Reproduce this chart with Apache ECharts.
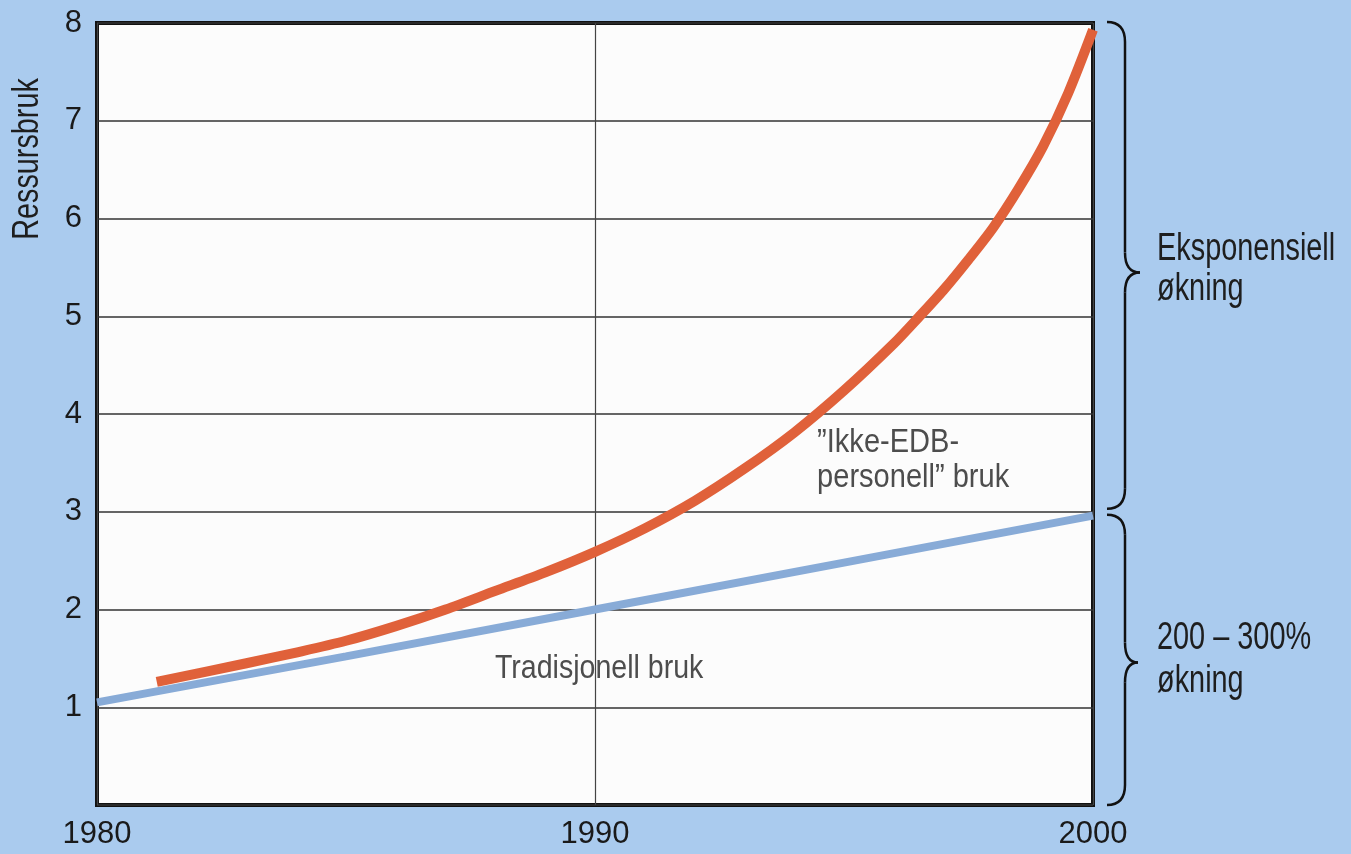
<!DOCTYPE html>
<html><head><meta charset="utf-8">
<script src="https://cdn.jsdelivr.net/npm/echarts@6/dist/echarts.min.js"></script>
<style>html,body{margin:0;padding:0;background:#aacbee;}#c{width:1351px;height:854px;}</style>
</head><body><div id="c"></div>
<script>
// Data
const tradYears  = [1980, 1985, 1990, 1995, 2000];
const tradValues = [1.05, 1.52, 2.0, 2.48, 2.96];
const ikkeYears  = [1981.2, 1983, 1984, 1985, 1986, 1987, 1988, 1989, 1990, 1991, 1992, 1993, 1994, 1995, 1996, 1996.5, 1997, 1997.5, 1998, 1998.5, 1999, 1999.5, 2000];
const ikkeValues = [1.26, 1.45, 1.56, 1.68, 1.83, 2.0, 2.19, 2.38, 2.59, 2.83, 3.11, 3.44, 3.81, 4.24, 4.72, 4.99, 5.27, 5.58, 5.91, 6.3, 6.74, 7.28, 7.93];
const xTicks = [1980, 1990, 2000];
const yTicks = [1, 2, 3, 4, 5, 6, 7, 8];
const yAxisTitle = 'Ressursbruk';
const tradLabel = 'Tradisjonell bruk';
const ikkeLabel = ['”Ikke-EDB-', 'personell” bruk'];
const braceUpperText = ['Eksponensiell', 'økning'];
const braceLowerText = ['200 – 300%', 'økning'];

const FONT = "'Liberation Sans', Arial, sans-serif";
const chart = echarts.init(document.getElementById('c'));

function pairs(xs, ys){ return xs.map((x,i)=>[x, ys[i]]); }

chart.setOption({
  backgroundColor: '#aacbee',
  animation: false,
  grid: { left: 97, right: 258, top: 23, bottom: 49, show: true,
          backgroundColor: '#fcfcfc', borderColor: '#111', borderWidth: 4 },
  xAxis: {
    type: 'value', min: xTicks[0], max: xTicks[xTicks.length-1], interval: 10,
    axisLine: { show: false }, axisTick: { show: false },
    axisLabel: { color: '#1a1a1a', fontSize: 31, fontFamily: FONT, margin: 14,
                 formatter: v => xTicks.includes(v) ? String(v) : '' },
    splitLine: { show: true, lineStyle: { color: '#444', width: 1.2 } }
  },
  yAxis: {
    type: 'value', min: 0, max: yTicks[yTicks.length-1], interval: 1,
    axisLine: { show: false }, axisTick: { show: false },
    axisLabel: { color: '#1a1a1a', fontSize: 31, fontFamily: FONT, margin: 15,
                 formatter: v => yTicks.includes(v) ? String(v) : '' },
    splitLine: { show: true, lineStyle: { color: '#333', width: 1.5 } }
  },
  series: [
    { type: 'line', data: pairs(tradYears, tradValues), showSymbol: false, smooth: false,
      lineStyle: { color: '#88abd7', width: 8, cap: 'butt' }, z: 3 },
    { type: 'line', data: pairs(ikkeYears, ikkeValues), showSymbol: false, smooth: 0.3,
      lineStyle: { color: '#e0613a', width: 10, cap: 'butt', join: 'round' }, z: 4 }
  ]
});

function px(x, y){ return chart.convertToPixel({gridIndex: 0}, [x, y]); }

function brace(xTip, xLine, xPoint, yTop, yMid, yBot){
  const r = 20;
  const st = { stroke: '#111', lineWidth: 2.5, fill: null };
  const bz = (x1,y1,cx,cy,x2,y2) => ({ type: 'bezierCurve', z: 10, silent: true,
     shape: { x1: x1, y1: y1, cpx1: cx, cpy1: cy, x2: x2, y2: y2 }, style: st });
  const ln = (x1,y1,x2,y2) => ({ type: 'line', z: 10, silent: true,
     shape: { x1: x1, y1: y1, x2: x2, y2: y2 }, style: st });
  return [
    bz(xTip, yTop, xLine, yTop, xLine, yTop + r),
    ln(xLine, yTop + r, xLine, yMid - r),
    bz(xLine, yMid - r, xLine, yMid, xPoint, yMid),
    bz(xPoint, yMid, xLine, yMid, xLine, yMid + r),
    ln(xLine, yMid + r, xLine, yBot - r),
    bz(xLine, yBot - r, xLine, yBot, xTip, yBot)
  ];
}

const right = px(2000, 0)[0];
const y8 = px(2000, 8)[1], y3 = px(2000, 3)[1], y0 = px(2000, 0)[1];
const yUpMid = (y8 + y3) / 2, yLoMid = (y3 + y0) / 2;
const txt = (s, x, y, size, color, sx) => ({
  type: 'text', x: x, y: y, z: 10, scaleX: sx, scaleY: 1,
  style: { text: s, fill: color, font: `${size}px ${FONT}`, textAlign: 'left', textVerticalAlign: 'middle' }
});

const tradPos = px(1987.99, 1.40);
const ikkePos1 = px(1994.46, 3.705);
const ikkePos2 = px(1994.46, 3.35);
const textX = right + 64;

chart.setOption({
  graphic: [].concat(
    brace(right + 14, right + 32, right + 47, y8 - 1, yUpMid + 5, y3 - 3),
    brace(right + 14, right + 32, right + 45, y3 + 3, yLoMid + 4, y0),
    [
      txt(braceUpperText[0], textX, yUpMid - 18, 38, '#1e1e1e', 0.76),
      txt(braceUpperText[1], textX, yUpMid + 22, 38, '#1e1e1e', 0.76),
      txt(braceLowerText[0], textX, yLoMid - 20, 38, '#1e1e1e', 0.76),
      txt(braceLowerText[1], textX, yLoMid + 23, 38, '#1e1e1e', 0.76),
      txt(tradLabel, tradPos[0], tradPos[1], 34, '#4d4d4d', 0.84),
      txt(ikkeLabel[0], ikkePos1[0], ikkePos1[1], 33, '#4d4d4d', 0.88),
      txt(ikkeLabel[1], ikkePos2[0], ikkePos2[1], 33, '#4d4d4d', 0.88),
      { type: 'text', x: 28, y: 159, rotation: Math.PI / 2, scaleX: 0.8, scaleY: 1, z: 10,
        style: { text: yAxisTitle, fill: '#1e1e1e', font: `36px ${FONT}`, textAlign: 'center', textVerticalAlign: 'middle' } }
    ]
  )
});
</script></body></html>
